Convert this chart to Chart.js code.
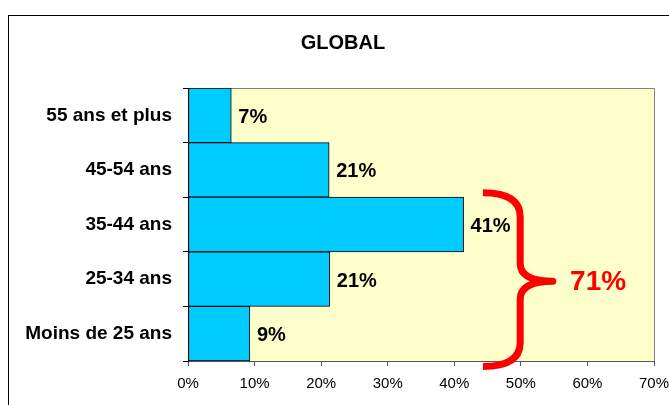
<!DOCTYPE html>
<html>
<head>
<meta charset="utf-8">
<script src="https://cdn.jsdelivr.net/npm/chart.js"></script>
<style>
  html, body { margin: 0; padding: 0; background: #fff; }
  #wrap { width: 669px; height: 405px; }
</style>
</head>
<body>
<div id="wrap"><canvas id="ageChart" width="669" height="405"></canvas></div>
<script>
// Data
const ageGroups = ['55 ans et plus', '45-54 ans', '35-44 ans', '25-34 ans', 'Moins de 25 ans'];
const shares = [6.5, 21.2, 41.4, 21.3, 9.3];
const xTickValues = [0, 10, 20, 30, 40, 50, 60, 70];
const bracketLabel = '71%';

const FONT = 'Arial, "Liberation Sans", sans-serif';

// Frame + plot background (yellow) + top/right border
const backgroundPlugin = {
    id: 'backgroundPlugin',
    afterLayout(chart) {
        // let the long category labels run into the left margin (no label clipping)
        chart.scales.y.left = 0;
    },
    beforeDraw(chart) {
        const { ctx, chartArea: a } = chart;
        ctx.save();
        ctx.strokeStyle = '#000';
        ctx.lineWidth = 1;
        ctx.strokeRect(8.5, 15.5, 800, 600);
        ctx.fillStyle = '#FFFFCC';
        ctx.fillRect(a.left, a.top, a.right - a.left, a.bottom - a.top);
        ctx.strokeStyle = '#808080';
        ctx.beginPath();
        ctx.moveTo(a.left, a.top + 0.5);
        ctx.lineTo(a.right + 0.5, a.top + 0.5);
        ctx.lineTo(a.right + 0.5, a.bottom);
        ctx.stroke();
        ctx.restore();
    }
};

// Percent labels at bar ends
const valueLabels = {
    id: 'valueLabels',
    afterDatasetsDraw(chart) {
        const { ctx } = chart;
        const meta = chart.getDatasetMeta(0);
        ctx.save();
        ctx.font = 'bold 20px ' + FONT;
        ctx.fillStyle = '#000';
        ctx.textAlign = 'left';
        ctx.textBaseline = 'middle';
        meta.data.forEach((bar, i) => {
            ctx.fillText(Math.round(shares[i]) + '%', bar.x + 7, bar.y + 2);
        });
        ctx.restore();
    }
};

// Red brace over the three youngest groups
const bracePlugin = {
    id: 'bracePlugin',
    afterDraw(chart) {
        const { ctx, scales: { x, y } } = chart;
        const xs = x.getPixelForValue(44.3);
        const xm = x.getPixelForValue(49.9);
        const xp = x.getPixelForValue(54.8);
        const yT = y.getPixelForValue(1.42);
        const yM = y.getPixelForValue(3.04);
        const yB = y.getPixelForValue(4.6);
        ctx.save();
        ctx.strokeStyle = '#FF0000';
        ctx.lineWidth = 7;
        ctx.lineJoin = 'round';
        ctx.beginPath();
        ctx.moveTo(xs, yT);
        ctx.quadraticCurveTo(xm, yT, xm, yT + 24);
        ctx.lineTo(xm, yM - 18);
        ctx.quadraticCurveTo(xm, yM, xp, yM);
        ctx.quadraticCurveTo(xm, yM, xm, yM + 18);
        ctx.lineTo(xm, yB - 24);
        ctx.quadraticCurveTo(xm, yB, xs, yB);
        ctx.stroke();
        ctx.font = 'bold 28px ' + FONT;
        ctx.fillStyle = '#FF0000';
        ctx.textAlign = 'left';
        ctx.textBaseline = 'middle';
        ctx.fillText(bracketLabel, x.getPixelForValue(57.4), yM + 1);
        ctx.restore();
    }
};

const ctx = document.getElementById('ageChart').getContext('2d');
new Chart(ctx, {
    type: 'bar',
    data: {
        labels: ageGroups,
        datasets: [{
            data: shares,
            backgroundColor: '#00CCFF',
            borderColor: '#000',
            borderWidth: 1,
            borderSkipped: false,
            barPercentage: 1,
            categoryPercentage: 1
        }]
    },
    options: {
        indexAxis: 'y',
        responsive: false,
        animation: false,
        devicePixelRatio: 1,
        layout: { padding: { top: 15, left: 32, right: 15, bottom: 0 } },
        plugins: {
            legend: { display: false },
            tooltip: { enabled: false },
            title: {
                display: true,
                text: 'GLOBAL',
                color: '#000',
                font: { family: FONT, size: 20, weight: 'bold' },
                padding: { top: 16, bottom: 33 }
            }
        },
        scales: {
            x: {
                min: 0,
                max: 70,
                afterBuildTicks: (scale) => { scale.ticks = xTickValues.map(v => ({ value: v })); },
                afterFit: (scale) => {
                    scale.height = 44;
                    scale.paddingLeft = 0;
                    scale.paddingRight = 0;
                },
                ticks: {
                    color: '#000',
                    padding: 9,
                    font: { family: FONT, size: 15 },
                    callback: (v) => v + '%'
                },
                grid: { drawOnChartArea: false, drawTicks: true, tickLength: 5, color: '#555' },
                border: { color: '#555' }
            },
            y: {
                afterFit: (scale) => { scale.width = 156; },
                ticks: {
                    color: '#000',
                    padding: 11,
                    font: { family: FONT, size: 19, weight: 'bold' }
                },
                grid: { drawOnChartArea: false, drawTicks: true, tickLength: 5, color: '#000', offset: true },
                border: { color: '#000' }
            }
        }
    },
    plugins: [backgroundPlugin, valueLabels, bracePlugin]
});
</script>
</body>
</html>
